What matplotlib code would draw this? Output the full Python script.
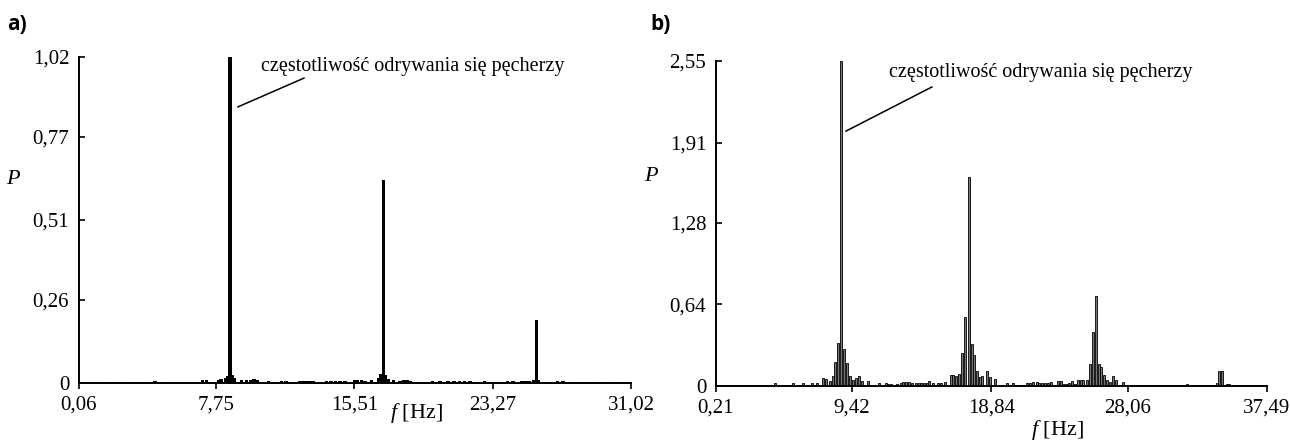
import matplotlib
matplotlib.use("Agg")
import matplotlib.pyplot as plt

# --- panel a) : spectrum, f [Hz] / P
a_freq = [0.10, 0.20, 0.30, 0.40, 0.50, 0.60, 0.70, 1.40, 1.55, 1.70, 1.85, 2.00, 2.10,
          2.90, 3.05, 3.20, 3.35, 3.50, 3.65, 3.80, 4.32, 4.60, 4.75, 4.90, 5.05, 5.20,
          6.00, 7.00, 7.22, 7.87, 8.02, 8.28, 8.40, 8.53, 8.65, 8.78, 9.18, 9.47, 9.71,
          9.87, 10.06, 10.68, 11.43, 11.67, 12.45, 12.65, 12.85, 13.05, 13.20, 13.95,
          14.20, 14.45, 14.70, 14.98, 15.54, 15.70, 15.91, 16.10, 16.47, 16.90, 17.00,
          17.13, 17.25, 17.40, 17.69, 18.06, 18.25, 18.45, 18.62, 19.90, 20.30, 20.76,
          21.10, 21.40, 21.70, 22.00, 22.80, 24.10, 24.40, 24.90, 25.10, 25.30, 25.55,
          25.71, 25.85, 26.90, 27.20, 27.70, 27.90, 28.10, 28.30, 28.50, 28.80, 29.10,
          29.40, 29.70, 30.00, 30.30, 30.60, 30.90]
a_val = [0.004, 0.004, 0.004, 0.004, 0.004, 0.004, 0.004, 0.004, 0.004, 0.004, 0.004, 0.004, 0.004,
         0.004, 0.004, 0.004, 0.004, 0.004, 0.004, 0.004, 0.006, 0.004, 0.004, 0.004, 0.004, 0.004,
         0.004, 0.008, 0.010, 0.008, 0.012, 0.015, 0.022, 1.02, 0.024, 0.016, 0.010, 0.008, 0.010,
         0.012, 0.010, 0.006, 0.006, 0.006, 0.005, 0.005, 0.005, 0.005, 0.005, 0.005,
         0.005, 0.005, 0.005, 0.005, 0.008, 0.008, 0.010, 0.006, 0.010, 0.015, 0.028,
         0.635, 0.025, 0.012, 0.010, 0.006, 0.008, 0.008, 0.006, 0.006, 0.006, 0.006,
         0.005, 0.005, 0.005, 0.005, 0.005, 0.005, 0.005, 0.005, 0.005, 0.006, 0.010,
         0.197, 0.008, 0.005, 0.005, 0.004, 0.004, 0.004, 0.004, 0.004, 0.004, 0.004,
         0.004, 0.004, 0.004, 0.004, 0.004, 0.004]
a_xticks = [0.06, 7.75, 15.51, 23.27, 31.02]
a_yticks = [0, 0.26, 0.51, 0.77, 1.02]

# --- panel b)
b_freq = [0.62, 1.79, 2.08, 2.29, 3.30, 3.66, 4.05, 4.22, 4.68, 5.06, 5.40, 5.69, 6.08, 6.30,
          6.48, 6.71, 7.04, 7.27, 7.47, 7.65, 7.92, 8.11, 8.28, 8.48, 8.67, 8.85, 9.07, 9.28,
          9.46, 9.66, 9.86, 10.07, 10.27, 10.49, 10.70, 11.24, 11.49, 11.70, 11.87, 12.08,
          12.44, 12.71, 12.89, 13.07, 13.25, 13.47, 13.74, 13.92, 14.10, 14.28, 14.47, 14.64,
          14.91, 15.25, 15.45, 15.68, 15.89, 16.09, 16.27, 16.47, 16.67, 16.87, 17.04, 17.33,
          17.51, 17.69, 17.87, 18.05, 18.23, 18.53, 18.73, 19.09, 19.54, 19.72, 19.90, 20.08,
          20.29, 20.46, 20.89, 21.07, 21.28, 21.46, 21.66, 21.91, 22.09, 22.29, 22.47, 22.68,
          22.86, 23.10, 23.33, 23.53, 23.74, 23.94, 24.11, 24.32, 24.50, 24.70, 24.89, 25.06,
          25.33, 25.54, 25.72, 25.93, 26.11, 26.29, 26.49, 26.69, 26.90, 27.07, 27.28, 27.73,
          28.18, 28.41, 28.68, 28.90, 29.28, 30.37, 30.59, 30.77, 31.11, 31.38, 31.72, 32.06,
          32.73, 32.91, 33.07, 33.41, 33.63, 33.82, 34.09, 34.27, 34.47, 34.77, 34.94, 35.10,
          36.52, 36.75, 36.97, 37.20, 37.40]
b_val = [0.006, 0.008, 0.008, 0.008, 0.010, 0.010, 0.010, 0.025, 0.010, 0.010, 0.025, 0.010, 0.020, 0.010,
         0.010, 0.020, 0.020, 0.010, 0.065, 0.055, 0.040, 0.075, 0.19, 0.34, 2.55, 0.29, 0.18, 0.08,
         0.05, 0.065, 0.08, 0.04, 0.010, 0.04, 0.010, 0.020, 0.010, 0.020, 0.012, 0.012,
         0.012, 0.020, 0.030, 0.030, 0.030, 0.020, 0.020, 0.020, 0.025, 0.025, 0.020, 0.040,
         0.025, 0.020, 0.020, 0.035, 0.010, 0.085, 0.085, 0.075, 0.095, 0.26, 0.54, 1.64,
         0.33, 0.24, 0.12, 0.07, 0.08, 0.12, 0.07, 0.055, 0.010, 0.010, 0.020, 0.010,
         0.020, 0.010, 0.010, 0.010, 0.020, 0.020, 0.030, 0.030, 0.025, 0.025, 0.025, 0.025,
         0.030, 0.010, 0.040, 0.040, 0.015, 0.015, 0.020, 0.040, 0.015, 0.045, 0.045, 0.045,
         0.045, 0.17, 0.42, 0.706, 0.17, 0.15, 0.085, 0.045, 0.035, 0.075, 0.045, 0.035,
         0.008, 0.008, 0.008, 0.008, 0.008, 0.008, 0.008, 0.008, 0.008, 0.008, 0.008, 0.015,
         0.008, 0.008, 0.008, 0.008, 0.008, 0.008, 0.020, 0.12, 0.12, 0.015, 0.015, 0.008,
         0.008, 0.008, 0.008, 0.008, 0.008]
b_xticks = [0.21, 9.42, 18.84, 28.06, 37.49]
b_yticks = [0, 0.64, 1.28, 1.91, 2.55]

label_text = "częstotliwość odrywania się pęcherzy"


def fmt(v):
    if v == 0:
        return "0"
    return ("%.2f" % v).replace(".", ",")


def style_axes(ax, xticks, yticks):
    for s in ['top', 'right']:
        ax.spines[s].set_visible(False)
    for s in ['left', 'bottom']:
        ax.spines[s].set_linewidth(1.4)
        ax.spines[s].set_color('black')
    ax.set_xticks(xticks)
    ax.set_xticklabels([fmt(v) for v in xticks])
    ax.set_yticks(yticks)
    ax.set_yticklabels([fmt(v) for v in yticks])
    ax.set_xlim(xticks[0], xticks[-1])
    ax.set_ylim(0, yticks[-1])
    ax.tick_params(axis='x', direction='out', length=4, width=1.2, pad=5, labelsize=15)
    ax.tick_params(axis='y', direction='in', length=4, width=1.2, pad=7, labelsize=15)


plt.rcParams['font.family'] = ['Liberation Serif', 'DejaVu Serif']
plt.rcParams['mathtext.fontset'] = 'custom'
plt.rcParams['mathtext.it'] = 'Liberation Serif:italic'
plt.rcParams['mathtext.rm'] = 'Liberation Serif'

fig = plt.figure(figsize=(12.9, 4.41), dpi=100)
ax1 = fig.add_axes([0.0612, 0.1315, 0.4279, 0.7392])
ax2 = fig.add_axes([0.5550, 0.1247, 0.4271, 0.7370])

ax1.bar(a_freq, a_val, width=0.19, color='black', linewidth=0)
style_axes(ax1, a_xticks, a_yticks)

# hollow-looking bars: grey fill with black outline
ax2.bar(b_freq, b_val, width=0.13, color='#777777', edgecolor='black', linewidth=0.6)
style_axes(ax2, b_xticks, b_yticks)

# annotations
ax1.plot([8.98, 12.68], [0.864, 0.954], color='black', lw=1.1, clip_on=False)
ax1.text(10.27, 0.99, label_text, fontsize=14.5, va='center', ha='left')
ax2.plot([9.01, 14.82], [2.00, 2.346], color='black', lw=1.1, clip_on=False)
ax2.text(11.92, 2.456, label_text, fontsize=14.5, va='center', ha='left')

# axis labels
fig.text(13 / 1290, 1 - 179 / 441, "P", fontsize=16, style='italic', ha='center', va='center')
fig.text(651 / 1290, 1 - 176 / 441, "P", fontsize=16, style='italic', ha='center', va='center')
for x, y in [(416, 413), (1057, 430)]:
    fig.text(x / 1290, 1 - y / 441, r"$f$ [Hz]", fontsize=16, ha='center', va='center')

fig.text(7 / 1290, 1 - 24 / 441, "a)", fontsize=15, fontweight='bold', family='Open Sans',
         ha='left', va='center')
fig.text(650 / 1290, 1 - 24 / 441, "b)", fontsize=15, fontweight='bold', family='Open Sans',
         ha='left', va='center')

plt.savefig("out.png", dpi=100)
